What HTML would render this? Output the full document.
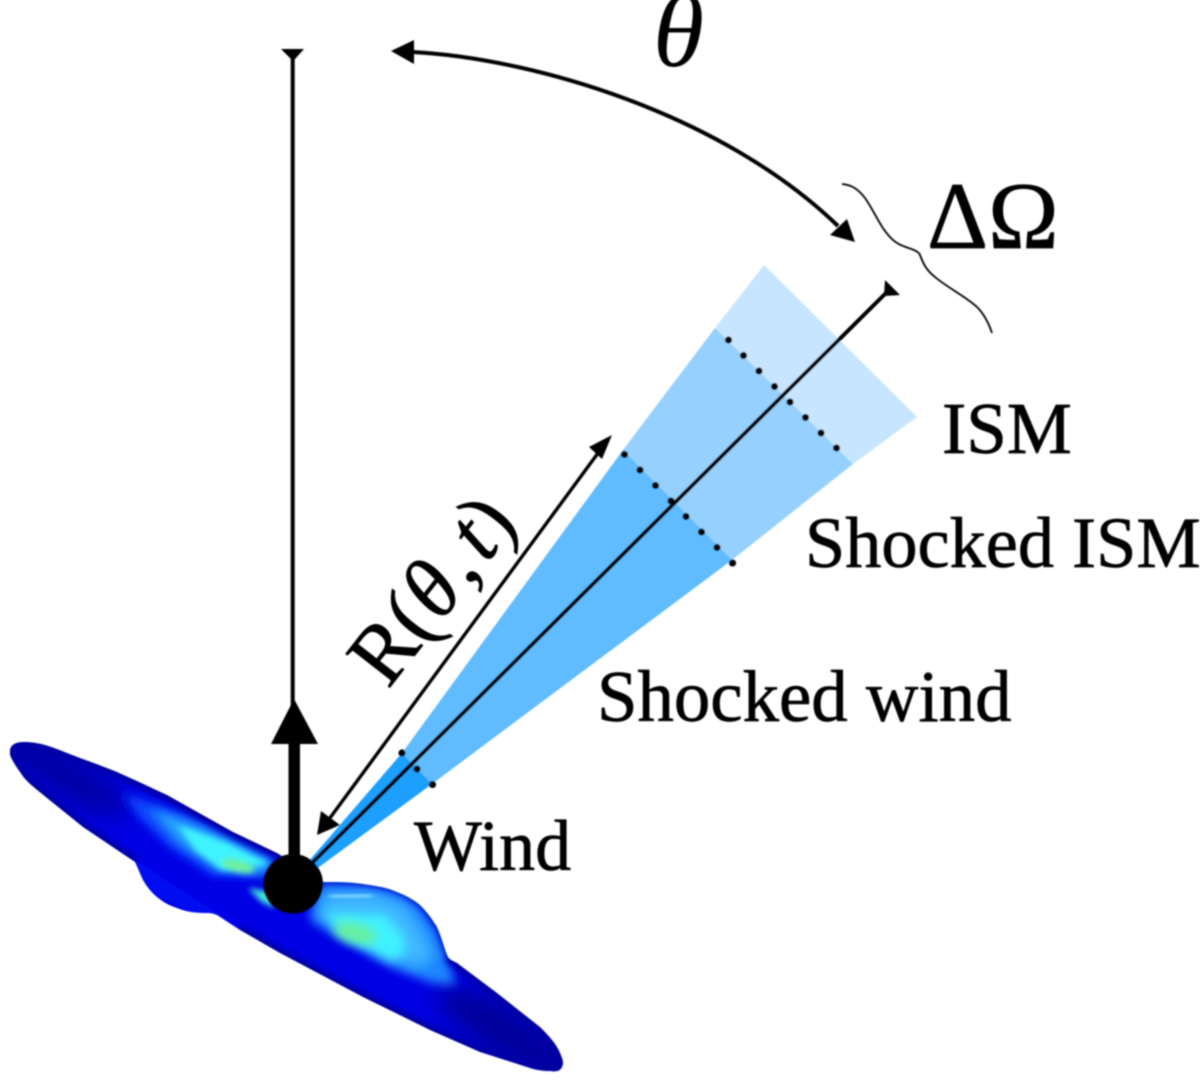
<!DOCTYPE html>
<html><head><meta charset="utf-8"><style>
html,body{margin:0;padding:0;background:#fff}
svg{display:block}
text{font-family:"Liberation Serif",serif;fill:#000;stroke:#000;stroke-width:.7px}
</style></head><body>
<svg width="1200" height="1081" viewBox="0 0 1200 1081" xmlns="http://www.w3.org/2000/svg">
<defs>
<filter id="b" x="-5%" y="-5%" width="110%" height="110%"><feGaussianBlur stdDeviation="0.75"/></filter>
<filter id="b12" x="-50%" y="-50%" width="200%" height="200%"><feGaussianBlur stdDeviation="12"/></filter>
<filter id="b7" x="-50%" y="-50%" width="200%" height="200%"><feGaussianBlur stdDeviation="7"/></filter>
<filter id="b5" x="-50%" y="-50%" width="200%" height="200%"><feGaussianBlur stdDeviation="5"/></filter>
<filter id="b4" x="-50%" y="-50%" width="200%" height="200%"><feGaussianBlur stdDeviation="4"/></filter>
<filter id="b3" x="-50%" y="-50%" width="200%" height="200%"><feGaussianBlur stdDeviation="3"/></filter>
<filter id="b1" x="-50%" y="-50%" width="200%" height="200%"><feGaussianBlur stdDeviation="1.5"/></filter>
<clipPath id="disk"><path d="M10 750C11 745 15 742 24 742C40 742 52 747 67 753C85 760 100 765 117 772C135 780 150 787 167 795L233 832L277 853L323 882C340 882 350 882 363 884C378 886 388 888 397 892C407 896 414 900 420 905C428 913 432 919 437 927C442 938 444 948 448 957C450 960 453 961 457 963L497 993L540 1027C550 1037 557 1045 560 1053C563 1060 564 1063 562 1067C560 1071 557 1072 550 1071C543 1071 536 1070 530 1068L480 1052L430 1030L363 997L280 953L240 930L217 915C214 914 212 913 207 913C195 913 187 912 177 908C168 905 163 902 157 897C151 892 147 887 143 880C140 874 138 868 135 862L83 827L47 798C35 788 26 782 20 772C15 765 12 760 10 755Z"/></clipPath>
</defs>
<g filter="url(#b)">
<!-- wedge -->
<polygon points="764,265 917,417 853,464 715,328" fill="#c7e5fe"/>
<polygon points="715,328 853,464 732,560 623,450" fill="#96d0fe"/>
<polygon points="623,450 732,560 432,784 402,753" fill="#60bcfe"/>
<polygon points="402,753 432,784 315,870 308,862" fill="#1f9fff"/>
<!-- dots -->
<g fill="#000">
<circle cx="728.5" cy="340" r="3.6"/><circle cx="743.5" cy="355.5" r="3.6"/><circle cx="759" cy="371" r="3.6"/><circle cx="774.5" cy="386.5" r="3.6"/><circle cx="790" cy="402" r="3.6"/><circle cx="805.5" cy="417.5" r="3.6"/><circle cx="821" cy="433" r="3.6"/><circle cx="836.5" cy="448" r="3.6"/>
<circle cx="624.5" cy="454.5" r="3.6"/><circle cx="640" cy="470" r="3.6"/><circle cx="655.5" cy="485.5" r="3.6"/><circle cx="671" cy="501" r="3.6"/><circle cx="686" cy="516.5" r="3.6"/><circle cx="701.5" cy="532" r="3.6"/><circle cx="717" cy="547.5" r="3.6"/><circle cx="732.5" cy="563" r="3.6"/>
<circle cx="402" cy="753" r="3.6"/><circle cx="417" cy="769" r="3.6"/><circle cx="432.5" cy="784.5" r="3.6"/>
</g>
<!-- disk -->
<g clip-path="url(#disk)">
<rect x="0" y="730" width="580" height="351" fill="#0000e4"/>
<ellipse cx="55" cy="768" rx="85" ry="24" transform="rotate(32 55 768)" fill="#0000a8" filter="url(#b12)"/>
<ellipse cx="510" cy="1035" rx="85" ry="26" transform="rotate(32 510 1035)" fill="#00009c" filter="url(#b12)"/>
<!-- left hot area -->
<path d="M123 793L187 815L275 857L270 876L213 875L167 845L140 818Z" fill="#0a4cff" filter="url(#b5)"/>
<path d="M150 808L200 826L272 862L262 874L218 870L178 842Z" fill="#28a8ff" filter="url(#b5)"/>
<path d="M178 825L225 842L270 864L222 870L195 850Z" fill="#40f4ff" filter="url(#b3)"/>
<ellipse cx="238" cy="866" rx="17" ry="6" transform="rotate(14 238 866)" fill="#70f0a0" filter="url(#b3)"/>
<path d="M248 888L270 892L275 908L262 902Z" fill="#40f0d8" filter="url(#b3)"/>
<!-- right hot area -->
<path d="M318 884L363 886L397 893L420 907L436 930L447 958L456 985L432 983L390 966L345 940L310 920Z" fill="#1c84ff" filter="url(#b5)"/>
<path d="M325 894L372 892L405 905L425 935L434 958L418 968L385 955L345 933L318 915Z" fill="#40b8ff" filter="url(#b7)"/>
<path d="M330 897L372 895" stroke="#80d8ff" stroke-width="6" fill="none" filter="url(#b3)"/>
<path d="M322 906L372 906" stroke="#1c80ff" stroke-width="5" fill="none" filter="url(#b3)"/>
<path d="M322 913L385 915L403 935L405 955L390 960L350 938Z" fill="#40f2ff" filter="url(#b5)"/>
<ellipse cx="355" cy="933" rx="22" ry="10" transform="rotate(14 355 933)" fill="#68f0a0" filter="url(#b5)"/>
<path d="M132 858L240 928L205 920L145 890Z" fill="#0008f0" filter="url(#b3)"/>
<!-- dark rim -->
<path d="M10 750C11 745 15 742 24 742C40 742 52 747 67 753C85 760 100 765 117 772C135 780 150 787 167 795L233 832L277 853L323 882M448 957L457 963L497 993L540 1027C550 1037 557 1045 560 1053C563 1060 564 1063 562 1067C560 1071 557 1072 550 1071C543 1071 536 1070 530 1068L480 1052L430 1030L363 997L280 953L240 930M135 862L83 827L47 798C35 788 26 782 20 772C15 765 12 760 10 755" fill="none" stroke="#0000a0" stroke-width="10" filter="url(#b3)"/>
<path d="M323 882C340 882 350 882 363 884C378 886 388 888 397 892C407 896 414 900 420 905C428 913 432 919 437 927C442 938 444 948 448 957" fill="none" stroke="#0030c8" stroke-width="3" filter="url(#b1)"/>
</g>
<!-- axes -->
<rect x="290.7" y="52" width="4" height="660" fill="#000"/>
<polygon points="281,49 304,49 295,59 291,59" fill="#000"/>
<rect x="288.5" y="740" width="11.5" height="130" fill="#000"/>
<polygon points="294,699 318,744 271,744" fill="#000"/>
<circle cx="293" cy="884" r="30" fill="#000"/>
<line x1="312" y1="863" x2="888" y2="291" stroke="#000" stroke-width="4"/>
<polygon points="885,280 900,295 884,296" fill="#000"/>
<!-- R arrow -->
<line x1="327" y1="822" x2="601" y2="449" stroke="#000" stroke-width="3.4"/>
<polygon points="317,835 321,811 340,825" fill="#000"/>
<polygon points="612,435 589,447 602,459" fill="#000"/>
<!-- theta arc -->
<path d="M412 52C530 58 720 112 838 226" fill="none" stroke="#000" stroke-width="4"/>
<polygon points="391,51 414,40 414,64" fill="#000"/>
<polygon points="855,242 830,235 847,219" fill="#000"/>
<!-- brace -->
<path d="M842 184C852 185 858 189 865 198C875 212 880 228 893 240C903 249 917 248 920 255C923 263 926 270 935 277C948 288 965 296 977 307C985 315 989 324 992 333" fill="none" stroke="#000" stroke-width="1.8"/>
<!-- labels -->
<text x="942" y="453" font-size="73">ISM</text>
<text x="805" y="567" font-size="72.3">Shocked ISM</text>
<text x="597" y="721" font-size="72.8">Shocked wind</text>
<text x="414" y="870" font-size="72">Wind</text>
<text x="653" y="66" font-size="104" font-style="italic" style="stroke-width:0">θ</text>
<text x="927" y="248" font-size="95">ΔΩ</text>
<text transform="translate(388 690) rotate(-52)" font-size="85">R(<tspan font-style="italic">θ</tspan><tspan dx="4">,</tspan><tspan font-style="italic" dx="8">t</tspan>)</text>
</g>
</svg>
</body></html>
